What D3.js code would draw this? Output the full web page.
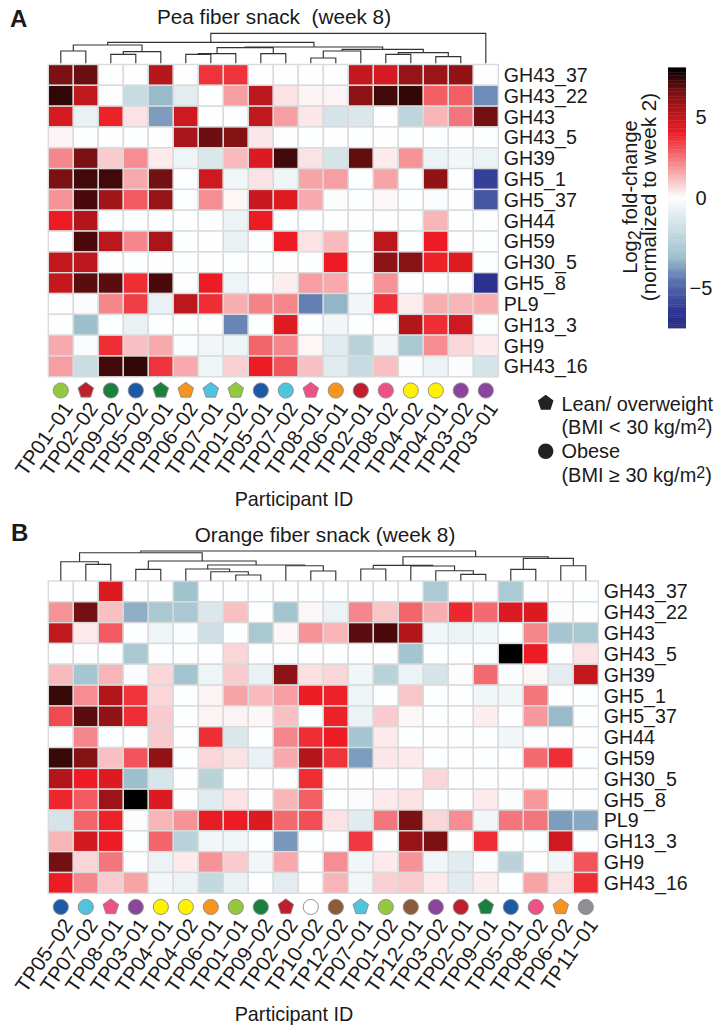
<!DOCTYPE html>
<html><head><meta charset="utf-8">
<script src="https://cdn.jsdelivr.net/npm/d3@7"></script>
<style>html,body{margin:0;padding:0;background:#fff}svg{display:block}text{font-family:"Liberation Sans",Arial,sans-serif;fill:#1a1a1a}</style>
</head><body><svg id="c" width="717" height="1027"></svg>
<script>
const rowsCazy = ["GH43_37","GH43_22","GH43","GH43_5","GH39","GH5_1","GH5_37","GH44","GH59","GH30_5","GH5_8","PL9","GH13_3","GH9","GH43_16"];

const peaIds = ["TP01−01","TP02−02","TP09−02","TP05−02","TP09−01","TP06−02","TP07−01","TP01−02","TP05−01","TP07−02","TP08−01","TP06−01","TP02−01","TP08−02","TP04−02","TP04−01","TP03−02","TP03−01"];
const peaColor = ["lime","crimson","green","blue","green","orange","cyan","lime","blue","cyan","pink","orange","crimson","pink","yellow","yellow","purple","purple"];
const peaLean = [0,1,0,0,1,1,1,1,0,0,1,0,0,0,0,0,0,0];
const peaValues = [
[6.5,6.7,0,0,5.2,0,3.6,3.6,0,0,0,0,4.9,4.5,5.9,5.8,6,0],
[7.4,5,0,-1.9,-3.4,-0.9,0,1.7,5.1,0.5,0.2,0.2,6.1,7.2,7.4,2.8,2.8,-4.2],
[4.5,-0.7,3.9,0.5,-3.9,4.7,0,0,5,1.7,0.4,-1.4,-1.2,-0.05,-2.2,1.3,2.4,6.6],
[0.2,0,0,0,0,5.5,6.7,6.3,0.4,0,0,0,0,0,0,0,0,0],
[2.1,6.5,0.9,2,0.35,-0.5,-1.2,1.2,4.4,7.2,0.5,-1.4,6.8,0.35,1.9,-0.6,-0.4,-0.6],
[6.5,7.2,7.2,1.5,6.6,0,4.7,-0.4,0.5,-0.5,1.6,1.7,0,1.6,0,6,0,-6],
[1.9,7.1,5.7,2.9,5.9,0,2,0.15,4.8,4.3,1.5,-0.1,0,0.15,0,-0.1,0,-5.4],
[4,5.3,0,0,0,0,0,-0.6,4,0,0,0,0,0,0,1.3,0,0],
[0,7.1,5.1,2.1,5.5,0,0,-0.7,0,4,0.5,1.2,0,5.1,0,4,0,0],
[4.9,5.1,0,0,0,0,0,0,0,0,0,4,0,6.1,6.2,3.9,4.3,0],
[4.9,6.9,6.9,3.7,7.1,0,4,-0.5,0,0.3,1.7,1.5,0,1.9,0,0,0,-6.6],
[0,-0.1,2.1,3.4,-0.7,5.1,3.7,1.4,2.2,2.1,-4.4,-3.5,-0.4,3.7,0.3,1.4,1.3,1.4],
[0,-3.3,0,-0.7,0,0,0,-4.3,0,4.3,0,-0.4,0,0,5.3,3.7,4.7,0],
[1.5,-0.1,3.7,1.1,1.5,-0.1,-0.4,-0.5,2.7,2.1,0.15,-1,-2.3,-0.4,-2.9,2,0.7,0.35],
[1.7,-1.8,7.2,7.4,3.6,1.5,-0.5,0.8,4,3,1.1,-1,-1.9,1.1,-0.1,-0.6,-0.1,-1.4]
];
// dendrogram: [height, child, child]; plain numbers are column positions
const peaTree = [30,
  [21,
    [18.3,[12.3,0,1],[11.7,[9,2,3],4]],
    [16.3,
      [15.7,[9.7,[9,5,6],7],[9.7,8,9]],
      [14,[12.3,[5.3,10,11],12],[10.7,[9,13,14],[6.7,15,16]]]]],
  17];

const orangeIds = ["TP05−02","TP07−02","TP08−01","TP03−01","TP04−01","TP04−02","TP06−01","TP01−01","TP09−02","TP02−02","TP10−02","TP12−02","TP07−01","TP01−02","TP12−01","TP03−02","TP02−01","TP09−01","TP05−01","TP08−02","TP06−02","TP11−01"];
const orangeColor = ["blue","cyan","pink","purple","yellow","yellow","orange","lime","green","crimson","white","brown","cyan","lime","brown","purple","crimson","green","blue","pink","orange","gray"];
const orangeLean = [0,0,1,0,0,0,0,0,0,1,0,0,1,0,0,0,0,1,0,0,1,0];
const orangeValues = [
[0,0,4.4,0,0,-3.2,0,0,0,0,0,0,0,0,0,-2.8,0,0,-2.8,0,0,0],
[1.9,6.6,1.1,-3.6,-2.9,-2.9,-1.2,1.1,0,-3.1,0.15,-0.6,2.1,1,2.7,1.4,3.8,2.6,4.4,4.4,-0.1,0],
[5,0.35,2.9,0,-0.5,-0.1,-1.6,0,-2.9,0.15,1.9,1.3,6.9,7.1,5.3,-0.4,-0.6,-0.4,0,2.1,-3,-2.9],
[0,0,0,-2.9,0,0,0,0.7,0,0,0,0,0,0,-3.1,0,0,0,8,4,0,0.5],
[1.2,-3,1.3,-0.1,0.7,-3.1,-0.5,0.9,-0.7,6.1,0.55,0.7,-0.4,-2.3,-0.6,-1.4,-0.1,2.6,-0.1,0.15,-0.9,4.9],
[7.3,2,5.3,3.6,0.7,0,0.2,1.6,1.2,1.7,4,3.9,-0.5,0,1,0,0,-0.4,-0.4,2.4,0,0],
[3.2,6.9,6,3.7,0.9,0,0.2,0.2,0.15,1.1,0,3.9,-0.6,0.9,0.15,0,0,0.3,0,1.8,-3.4,0],
[0,2.1,0,0,0.9,0,3.7,-1.2,0,2.1,3.7,4,-3,0.35,0,0,0,0,-0.4,0,0,0],
[7.3,6.3,1.1,3,6,0,0.7,0.5,-0.7,1.5,5.3,3.6,-3.9,0.4,0.35,0,0,0,0,2.6,3.7,0],
[5.3,4,4.4,-3.3,-1.3,0,-2.3,0,0,0,3.7,0,0,0,0,0.7,0,0,0,0,0,0],
[3.8,2.9,5.8,8,4.4,0,-1,0.5,0,1.3,2.8,0,-0.1,0.35,0.5,0,0,0.35,-0.1,1.8,0,0],
[-1.4,2.7,3.9,-0.1,1.3,1.9,4.1,4,4.4,2.6,3.1,0.5,-1,2.4,6.5,0.7,2,-0.4,2.4,2.4,-3.9,-3.7],
[1.3,4.6,4,0,2.7,-2.4,-0.4,-0.4,0,-4,0,0,3.5,0,5.9,6.5,0,3.7,0,0,4.7,0],
[6.6,0.7,2.4,0,-0.6,0.35,1.9,0.9,-0.4,1.5,0,2,-0.4,0.35,1.9,-0.4,-1,-0.1,-2.3,0,-0.4,3],
[4,2.1,0.9,1.6,-0.4,-0.6,-2,-0.7,0,-0.9,0,1.3,-0.4,0.8,0.9,0.35,-1,0.3,0,1.6,0.5,3.7]
];
const orangeTree = [29.7,
  [28,
    [19,0,[16.3,1,2]],
    [19.7,[11.3,3,4],
      [15.7,[11.7,5,[9,6,[5.7,7,8]]],[15,9,[9.7,10,11]]]]],
  [24,
    [15.3,[11.7,12,13],[14.7,14,[10,15,[6.3,16,17]]]],
    [22.3,[11.3,18,19],[15,20,21]]]];

const colorStops = [-7.2,-6.4,-4.6,-3.3,0,4,6.5,8];
const colorRange = ["#2b2f80","#2b3192","#5a73ae","#9dc1cc","#fdfeff","#ed1c24","#7b1113","#000000"];
const barTicks = [5,0,-5];
const participantPalette = {lime:"#94c83d",crimson:"#be1e2d",green:"#1b7f3f",blue:"#1c5aa6",orange:"#f7941d",cyan:"#4fc4dd",pink:"#ee5088",yellow:"#fff200",purple:"#8c459c",brown:"#8a5c3a",white:"#ffffff",gray:"#8d8f93"};

const svg = d3.select("#c");
const color = d3.scaleLinear().domain(colorStops).range(colorRange).clamp(true);
const FS = 19.6;
const pentagon = d3.line().curve(d3.curveLinearClosed)
  .x(a=>8.2*Math.sin(a)).y(a=>-8.2*Math.cos(a));
const pentAngles = d3.range(5).map(i=>i*2*Math.PI/5);

function panel(o){
  const g = svg.append("g");
  const x = d3.scaleBand().domain(d3.range(o.ids.length)).range([48.3,48.3+25*o.ids.length]);
  const y = d3.scaleBand().domain(o.rows).range([o.top,o.top+20.82*o.rows.length]);
  // cells
  o.values.forEach((row,r)=>{
    g.append("g").selectAll("rect").data(row).join("rect")
      .attr("x",(d,i)=>x(i)).attr("y",y(o.rows[r]))
      .attr("width",x.bandwidth()).attr("height",y.bandwidth())
      .attr("fill",d=>color(d)).attr("stroke","#dadada").attr("stroke-width",1.4);
  });
  // row labels
  g.append("g").selectAll("text").data(o.rows).join("text")
    .attr("x",x.range()[1]+5.5).attr("y",d=>y(d)+y.bandwidth()/2+7)
    .attr("font-size",FS).text(d=>d);
  // dendrogram
  const h = d3.scaleLinear().domain([0,30]).range([o.top-o.leafGap,o.top-o.leafGap-30]);
  const root = d3.hierarchy(o.tree,d=>Array.isArray(d)?d.slice(1):null);
  root.eachAfter(n=>{
    if(!n.children){n.px=x(n.data)+x.bandwidth()/2;n.py=h(0);}
    else{n.px=(n.children[0].px+n.children[1].px)/2;n.py=h(n.data[0]);}
  });
  g.append("g").selectAll("path").data(root.descendants().filter(n=>n.children)).join("path")
    .attr("fill","none").attr("stroke","#333").attr("stroke-width",1.15)
    .attr("d",n=>{const [a,b]=n.children;return `M${a.px},${a.py}V${n.py}H${b.px}V${b.py}`;});
  // participant symbols
  const symY = o.top+20.82*o.rows.length+13.7;
  const sym = g.append("g").selectAll("g").data(o.ids).join("g")
    .attr("transform",(d,i)=>`translate(${x(i)+x.bandwidth()/2},${symY})`);
  sym.each(function(d,i){
    const s=d3.select(this);
    const el=o.lean[i]? s.append("path").attr("d",pentagon(pentAngles)) : s.append("circle").attr("r",7.6);
    el.attr("fill",participantPalette[o.color[i]]).attr("stroke","#8a8a8a").attr("stroke-width",0.9);
  });
  // participant labels
  g.append("g").selectAll("text").data(o.ids).join("text")
    .attr("text-anchor","end").attr("font-size",20.5)
    .attr("transform",(d,i)=>`translate(${x(i)+x.bandwidth()/2+13},${symY+18}) rotate(-55)`)
    .text(d=>d);
  g.append("text").attr("x",294).attr("y",symY+o.xlabDy).attr("text-anchor","middle").attr("font-size",FS+0.2).text("Participant ID");
  g.append("text").attr("x",o.titleX).attr("y",o.titleY).attr("text-anchor","middle").attr("font-size",20.75).attr("xml:space","preserve").text(o.title);
  g.append("text").attr("x",o.letterX).attr("y",o.letterY).attr("font-size",24).attr("font-weight","bold").text(o.letter);
}
panel({ids:peaIds,color:peaColor,lean:peaLean,values:peaValues,rows:rowsCazy,tree:peaTree,top:64.5,leafGap:1.2,title:"Pea fiber snack  (week 8)",titleX:274,titleY:24,letter:"A",letterX:10,letterY:27,xlabDy:115});
panel({ids:orangeIds,color:orangeColor,lean:orangeLean,values:orangeValues,rows:rowsCazy,tree:orangeTree,top:581,leafGap:0.3,title:"Orange fiber snack (week 8)",titleX:325,titleY:541.5,letter:"B",letterX:11,letterY:541,xlabDy:114});

// colour bar
const barY = d3.scaleLinear().domain([-7.2,-5,0,5,8]).range([328,288,198,117,69]);
const barVals = d3.range(-7.2,8.001,0.1);
svg.append("g").selectAll("rect").data(barVals).join("rect")
  .attr("x",668).attr("width",18)
  .attr("y",d=>barY(d+0.1)).attr("height",d=>barY(d)-barY(d+0.1)+0.4)
  .attr("fill",d=>color(d));
svg.append("g").selectAll("text").data(barTicks).join("text")
  .attr("x",701).attr("y",d=>barY(d)+7).attr("text-anchor","middle").attr("font-size",20)
  .text(d=>d3.format("")(d).replace("-","−"));
const t1=svg.append("text").attr("transform","translate(637,197) rotate(-90)").attr("text-anchor","middle").attr("font-size",20);
t1.append("tspan").text("Log");
t1.append("tspan").attr("dy",4).attr("font-size",18).text("2");
t1.append("tspan").attr("dy",-4).text(" fold-change");
svg.append("text").attr("transform","translate(656,197) rotate(-90)").attr("text-anchor","middle").attr("font-size",20.6).text("(normalized to week 2)");

// BMI legend
const legX=561.5;
function legLine(yy,txt,sup){
  const t=svg.append("text").attr("x",legX).attr("y",yy).attr("font-size",19.9);
  t.append("tspan").text(txt);
  if(sup){t.append("tspan").attr("dy",-4.5).attr("font-size",16).text(sup);t.append("tspan").attr("dy",4.5).text(")");}
}
svg.append("path").attr("d",pentagon(pentAngles)).attr("transform","translate(545.7,403)").attr("fill","#222");
svg.append("circle").attr("cx",545.7).attr("cy",451.3).attr("r",7.7).attr("fill","#222");
legLine(410.7,"Lean/ overweight");
legLine(434,"(BMI < 30 kg/m","2");
legLine(458,"Obese");
legLine(482,"(BMI ≥ 30 kg/m","2");
</script></body></html>
